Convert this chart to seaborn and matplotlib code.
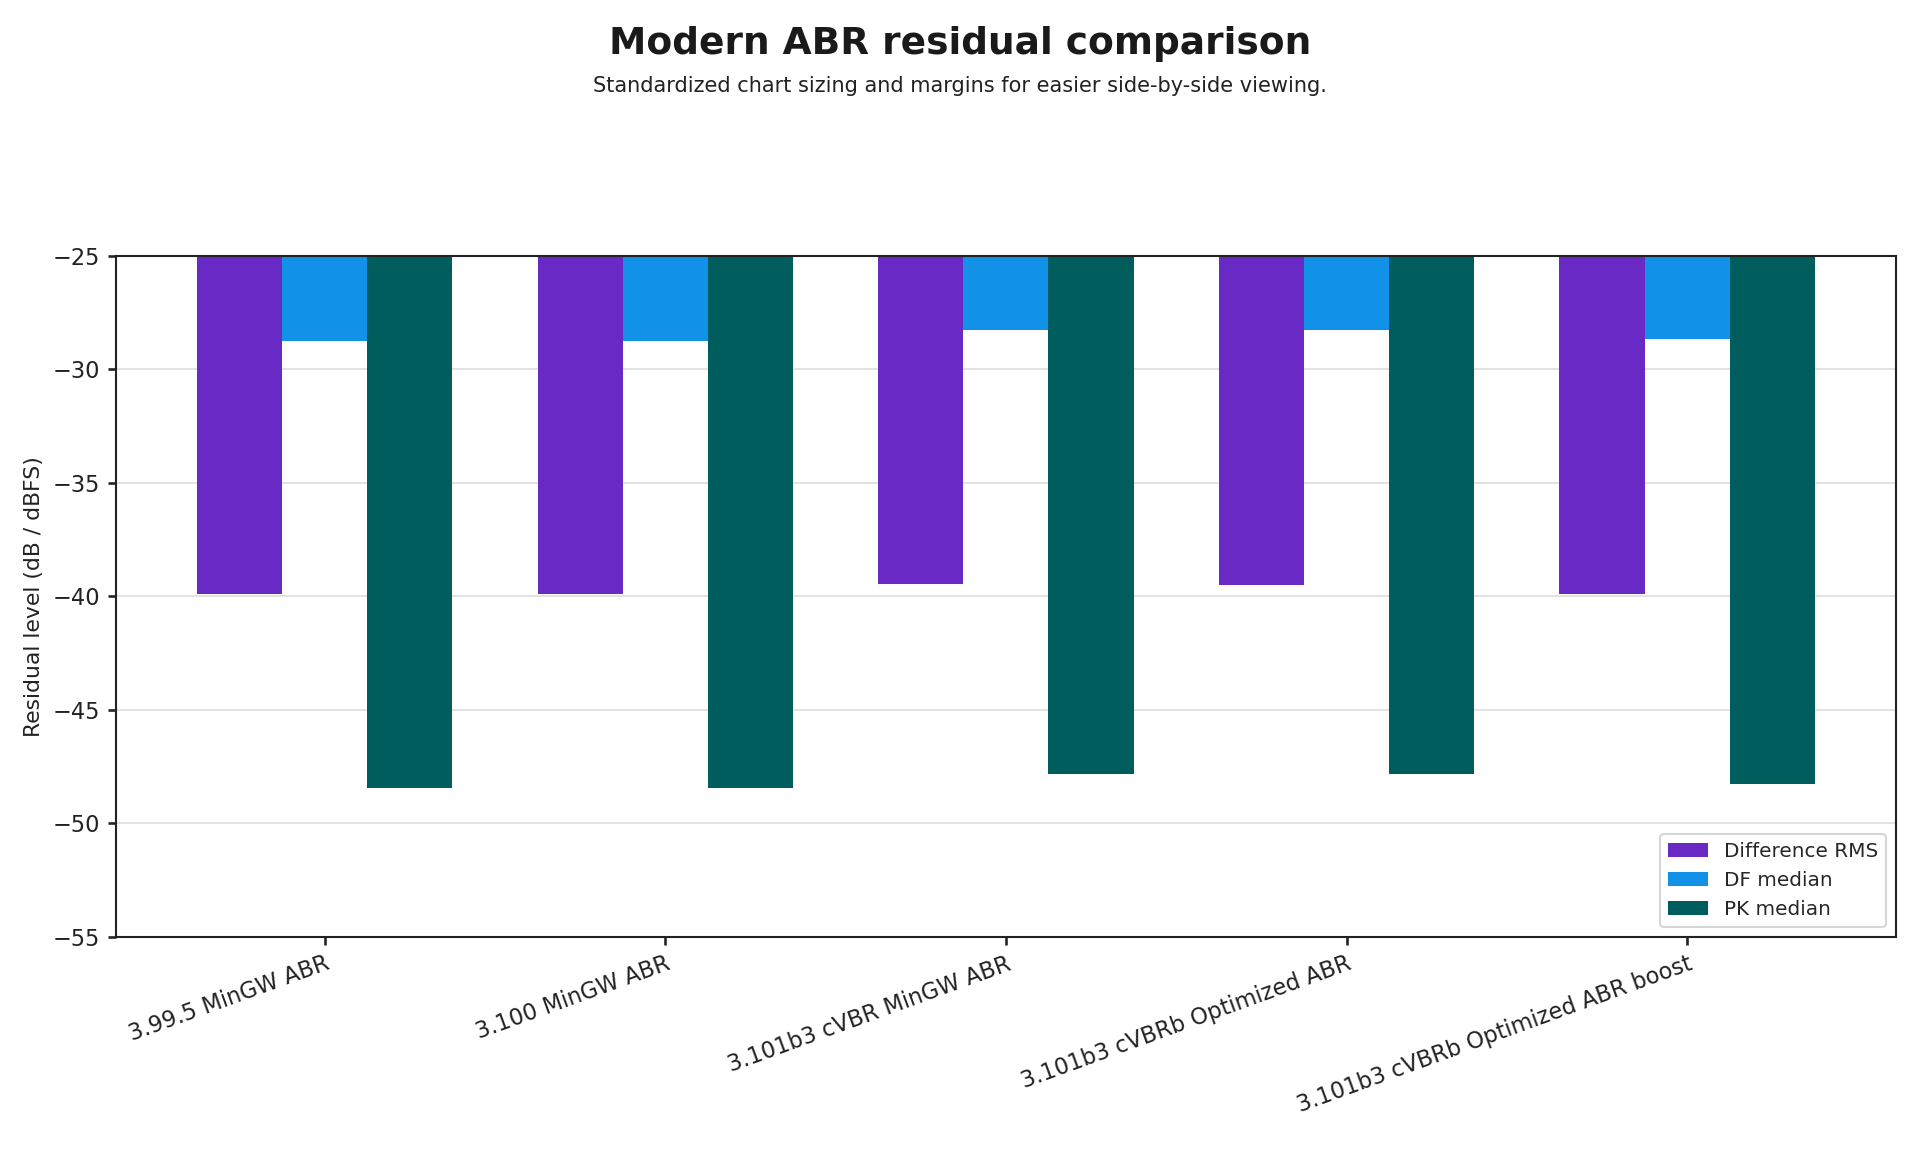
import pandas as pd
import numpy as np
import seaborn as sns
import matplotlib.pyplot as plt

# chart values
builds = ["3.99.5 MinGW ABR", "3.100 MinGW ABR", "3.101b3 cVBR MinGW ABR",
          "3.101b3 cVBRb Optimized ABR", "3.101b3 cVBRb Optimized ABR boost"]
series = ["Difference RMS", "DF median", "PK median"]
diff_rms = [-39.92, -39.92, -39.48, -39.52, -39.92]
df_median = [-28.75, -28.75, -28.28, -28.28, -28.65]
pk_median = [-48.45, -48.45, -47.85, -47.85, -48.28]
colors = ["#6929c4", "#1192e8", "#005d5d"]

df = pd.DataFrame({
    "build": builds * 3,
    "metric": [s for s in series for _ in builds],
    "value": diff_rms + df_median + pk_median,
})

sns.set_theme(style="white")
plt.rcParams['font.family'] = ['DejaVu Sans']

fig = plt.figure(figsize=(12.8, 7.68), dpi=150)
ax = fig.add_axes([0.0604, 0.187, 0.927, 0.591])

sns.barplot(data=df, x="build", y="value", hue="metric", hue_order=series,
            order=builds, palette=colors, width=0.75, saturation=1,
            errorbar=None, linewidth=0, ax=ax, zorder=2)

ax.set_ylim(-55, -25)
ax.set_xlim(-0.6125, 4.6125)
ax.yaxis.grid(True, color="#dddddd", linewidth=0.8, zorder=0)
ax.set_axisbelow(True)
ax.set_xlabel("")
ax.set_ylabel("Residual level (dB / dBFS)", fontsize=10.5, color="#222222")
ax.tick_params(axis="both", labelsize=10.8, colors="#222222", length=4,
               bottom=True, left=True)
plt.setp(ax.get_xticklabels(), rotation=20, ha="right", rotation_mode="anchor")
for s in ax.spines.values():
    s.set_color("#222222")
    s.set_linewidth(1.0)

ax.legend(loc="lower right", fontsize=9.6, frameon=True, title=None)

fig.text(0.5, 0.962, "Modern ABR residual comparison", ha="center", va="center",
         fontsize=18, fontweight="bold", color="#1a1a1a")
fig.text(0.5, 0.925, "Standardized chart sizing and margins for easier side-by-side viewing.",
         ha="center", va="center", fontsize=10, color="#222222")

fig.savefig("out.png", dpi=150)
